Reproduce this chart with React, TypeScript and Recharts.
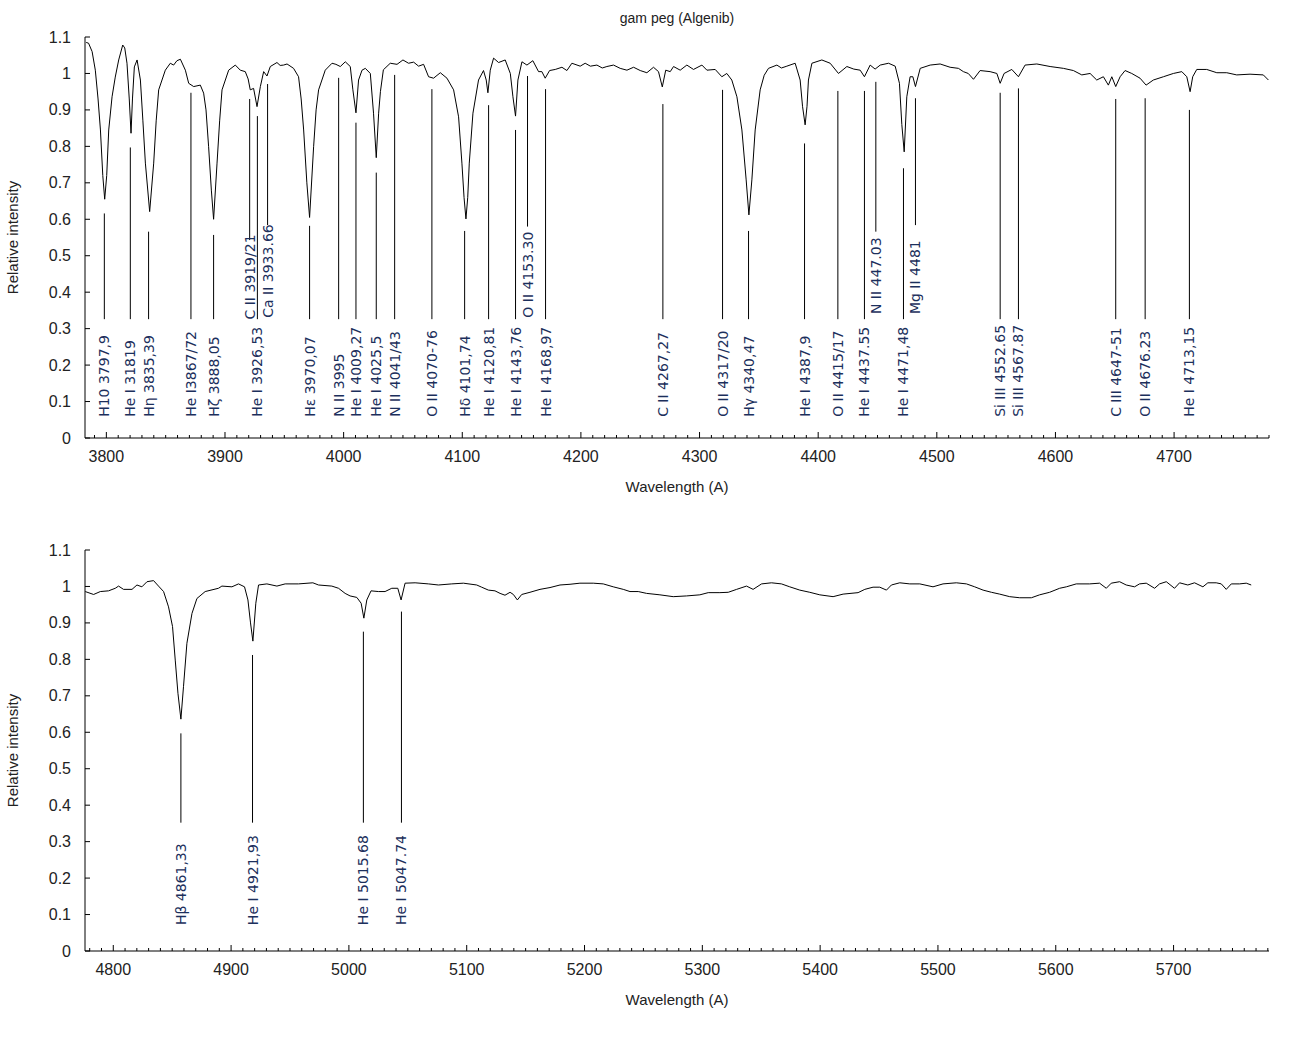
import { ComposedChart, Line, Scatter, XAxis, YAxis, ReferenceLine } from "recharts";

// top panel spectrum (3782 - 4780 A)
const topWave = [
  3783, 3785, 3788, 3790.7, 3793, 3795, 3797, 3798.6, 3800.3, 3802, 3804.8, 3807.5, 3810.4, 3813.8, 3815.5,
  3817.4, 3819.3, 3820.8, 3822, 3823.6, 3825.9, 3828.7, 3830.8, 3832.9, 3836.5, 3839.9, 3842, 3844.1, 3849.7,
  3853.9, 3856.7, 3859.5, 3862.4, 3866.6, 3869.4, 3873.6, 3879.2, 3882, 3884, 3886.2, 3888.5, 3890.4, 3893.3,
  3895.5, 3897.5, 3903.1, 3908.7, 3912.9, 3917.1, 3919.5, 3921.3, 3924.1, 3927, 3929.8, 3932.6, 3935.4, 3938.2,
  3943.8, 3946.5, 3949.4, 3952.3, 3957.8, 3962, 3964.2, 3966.3, 3969, 3971.3, 3974.7, 3976.8, 3978.9, 3984.5,
  3990.2, 3993.5, 3997.2, 4001.4, 4005.6, 4007.8, 4010.4, 4012.6, 4015.5, 4018.3, 4022.5, 4025.2, 4027.5, 4029.5,
  4031, 4033.5, 4039.3, 4045, 4050, 4054.7, 4059, 4063.2, 4067.4, 4071.6, 4075.8, 4081.5, 4087.1, 4092.7, 4096.9,
  4099.7, 4101.5, 4103.1, 4104.6, 4105.9, 4109, 4113.7, 4117.9, 4120.2, 4121.6, 4123.6, 4126.4, 4130.6, 4136.2,
  4140.5, 4142.7, 4144.9, 4146.9, 4150.3, 4154.5, 4159.5, 4164.3, 4167.1, 4169.9, 4173.6, 4178.4, 4184, 4188.2,
  4192.4, 4199.4, 4203.6, 4208, 4213.5, 4218, 4221.9, 4227.5, 4233.1, 4238.8, 4244.4, 4250, 4255.6, 4261.2,
  4265.4, 4268.6, 4271.5, 4275.3, 4278.1, 4283.7, 4289.3, 4294.9, 4302, 4306.2, 4313.2, 4318.8, 4323, 4327.2,
  4331.5, 4335.7, 4339.3, 4341.6, 4344.1, 4346.9, 4351.1, 4354.5, 4358.1, 4365.2, 4369, 4373.6, 4380.6, 4384.8,
  4386.8, 4389, 4390.6, 4391.8, 4394.7, 4403.1, 4410.1, 4417.1, 4424.2, 4430, 4435.4, 4439, 4443.8, 4448,
  4452.3, 4459.3, 4464.9, 4468.5, 4470.5, 4472.5, 4474.7, 4477.5, 4479.8, 4482, 4486, 4494.4, 4502.8, 4511.2,
  4518.2, 4522.4, 4526.5, 4530.9, 4536.5, 4544.9, 4550.6, 4553.4, 4556.7, 4563.2, 4568.8, 4574.4, 4584.3,
  4595.5, 4606.7, 4615.1, 4622.2, 4629.2, 4634.8, 4640.4, 4644.6, 4647.5, 4650.8, 4654.5, 4658.7, 4664.3,
  4671.3, 4676.4, 4682.5, 4691, 4699.4, 4706.5, 4710.7, 4713.5, 4715.7, 4719.1, 4727.5, 4736, 4744.4, 4752.8,
  4764, 4775.2, 4779.5,
];
const topFlux = [
  1.085, 1.083, 1.06, 1.009, 0.93, 0.845, 0.72, 0.655, 0.72, 0.845, 0.936, 0.99, 1.037, 1.078, 1.07,
  1.028, 0.93, 0.836, 0.93, 1.018, 1.037, 0.982, 0.87, 0.754, 0.621, 0.754, 0.87, 0.955, 1.009,
  1.028, 1.023, 1.035, 1.039, 1.009, 0.973, 0.964, 0.968, 0.946, 0.9, 0.799, 0.68, 0.6, 0.754,
  0.87, 0.955, 1.009, 1.023, 1.009, 1.005, 0.985, 0.955, 0.959, 0.909, 0.964, 1.005, 0.993, 1.019,
  1.03, 1.022, 1.023, 1.026, 1.014, 0.991, 0.93, 0.845, 0.7, 0.605, 0.799, 0.9, 0.955, 1.009,
  1.028, 1.025, 1.019, 1.032, 1.019, 0.955, 0.892, 0.982, 1.009, 1.014, 1.0, 0.891, 0.769, 0.891,
  0.95, 1.01, 1.028, 1.025, 1.037, 1.028, 1.031, 1.02, 1.025, 0.991, 0.987, 1.002, 0.987, 0.955, 0.881,
  0.754, 0.66, 0.601, 0.66, 0.754, 0.891, 0.982, 1.008, 0.982, 0.947, 1.009, 1.042, 1.03, 1.037,
  1.0, 0.936, 0.883, 0.982, 1.032, 1.023, 1.035, 1.005, 1.005, 0.987, 1.008, 1.011, 1.017, 1.008,
  1.028, 1.02, 1.028, 1.02, 1.023, 1.015, 1.019, 1.023, 1.014, 1.009, 1.017, 1.008, 1.002, 1.017,
  1.005, 0.963, 1.009, 1.005, 1.019, 1.009, 1.023, 1.011, 1.023, 1.009, 1.011, 0.991, 1.0, 0.982,
  0.936, 0.845, 0.708, 0.612, 0.708, 0.845, 0.955, 0.995, 1.014, 1.023, 1.015, 1.02, 1.028, 0.982,
  0.91, 0.859, 0.91, 0.982, 1.028, 1.037, 1.028, 1.0, 1.019, 1.012, 1.009, 0.991, 1.023, 1.012,
  1.023, 1.028, 1.02, 0.973, 0.86, 0.785, 0.936, 0.991, 0.991, 0.964, 1.014, 1.023, 1.026, 1.017,
  1.014, 1.005, 1.0, 0.984, 1.008, 1.005, 1.0, 0.973, 1.0, 1.011, 0.991, 1.023, 1.026,
  1.019, 1.014, 1.008, 0.996, 1.0, 0.982, 0.991, 0.968, 0.991, 0.964, 0.991, 1.008, 1.0,
  0.987, 0.968, 0.982, 0.991, 1.0, 1.005, 0.991, 0.95, 0.991, 1.011, 1.011, 1.002, 1.002, 0.996,
  0.998, 0.996, 0.982,
];

// bottom panel spectrum (4776 - 5781 A)
const botWave = [
  4776.2, 4783.3, 4789, 4796, 4801.7, 4804.5, 4808.7, 4815.9, 4820.1, 4824.3, 4828.6, 4834.2, 4838.4, 4842.7,
  4846.9, 4850.3, 4852.6, 4854.9, 4857.4, 4859.6, 4862.5, 4866.8, 4871, 4878, 4889.3, 4892.2, 4900.7, 4906.3,
  4911.4, 4914.3, 4916.5, 4918.5, 4921, 4923.3, 4930.4, 4938.9, 4945.9, 4957.2, 4969.4, 4974.2, 4985.5, 4991.2,
  4996.8, 5001, 5006.7, 5010.4, 5012.7, 5015.2, 5018.8, 5025, 5030.7, 5036.4, 5041.5, 5044.3, 5047.7, 5056.2,
  5067.5, 5076, 5087.3, 5097.2, 5108.5, 5112.7, 5118.4, 5124, 5128.3, 5132.5, 5136.8, 5139.6, 5143, 5146.7,
  5153.7, 5162.2, 5170.7, 5179.2, 5187.7, 5196.1, 5207.4, 5215.9, 5224.4, 5232.9, 5238.6, 5245.6, 5252.7, 5264,
  5275.3, 5286.6, 5297.9, 5305, 5314.9, 5322, 5329.1, 5337.5, 5343.1, 5350.3, 5358.7, 5367.2, 5374.2, 5382.7,
  5391.2, 5399.7, 5411, 5419.5, 5432.2, 5437.9, 5444.9, 5450.6, 5456.3, 5460.5, 5467.6, 5476.1, 5484.6, 5495.8,
  5504.3, 5515.6, 5524.2, 5531.2, 5538.3, 5545.4, 5552.4, 5560.9, 5569.4, 5579.3, 5586.3, 5594.8, 5603.3, 5609,
  5617.4, 5628.7, 5637.2, 5642.9, 5647.1, 5654.2, 5659.8, 5666.9, 5671.1, 5676.8, 5683.9, 5688.1, 5693.8, 5700.8,
  5705.1, 5712.1, 5717.8, 5724.9, 5729.1, 5736.2, 5740.5, 5744.7, 5749, 5756, 5761.7, 5765.9,
];
const botFlux = [
  0.986, 0.978, 0.986, 0.988, 0.995, 1.001, 0.992, 0.992, 1.004, 0.999, 1.013, 1.016, 1.001, 0.986,
  0.944, 0.89, 0.798, 0.707, 0.636, 0.725, 0.844, 0.926, 0.967, 0.986, 0.995, 1.001, 0.999, 1.007,
  0.999, 0.963, 0.9, 0.85, 0.954, 1.004, 1.007, 1.001, 1.007, 1.007, 1.01, 1.004, 1.001, 0.995,
  0.981, 0.974, 0.97, 0.954, 0.913, 0.963, 0.988, 0.986, 0.986, 0.995, 0.995, 0.963, 1.009, 1.01,
  1.007, 1.004, 1.007, 1.009, 1.004, 0.998, 0.99, 0.988, 0.981, 0.976, 0.984, 0.978, 0.963, 0.978,
  0.984, 0.992, 0.997, 1.004, 1.006, 1.009, 1.009, 1.007, 0.999, 0.992, 0.986, 0.986, 0.981, 0.977,
  0.972, 0.974, 0.977, 0.983, 0.983, 0.984, 0.992, 1.001, 0.992, 1.007, 1.01, 1.007, 0.999, 0.99,
  0.984, 0.977, 0.972, 0.979, 0.983, 0.992, 0.998, 0.998, 0.99, 1.004, 1.01, 1.007, 1.007, 0.999,
  1.007, 1.01, 1.007, 0.999, 0.99, 0.984, 0.979, 0.972, 0.969, 0.969, 0.977, 0.984, 0.995, 0.999,
  1.007, 1.007, 1.009, 0.995, 1.009, 1.013, 1.004, 0.999, 1.007, 1.009, 0.995, 1.007, 1.013, 0.995,
  1.01, 1.004, 1.01, 0.999, 1.01, 1.01, 1.007, 0.992, 1.007, 1.007, 1.009, 1.004,
];

// line identifications, top panel
const topLabels = [
  "H10 3797,9", "He I 31819", "Hη 3835,39", "He I3867/72", "Hζ 3888,05", "C II 3919/21", "He I 3926,53",
  "Ca II 3933.66", "Hε 3970,07", "N II 3995", "He I 4009,27", "He I 4025,5", "N II 4041/43", "O II 4070-76",
  "Hδ 4101,74", "He I 4120,81", "He I 4143,76", "O II 4153.30", "He I 4168,97", "C II 4267,27", "O II 4317/20",
  "Hγ 4340,47", "He I 4387,9", "O II 4415/17", "He I 4437.55", "N II 447.03", "He I 4471,48", "Mg II 4481",
  "Si III 4552.65", "Si III 4567.87", "C III 4647-51", "O II 4676.23", "He I 4713,15",
];
const topLinePos = [
  3798.3, 3820.2, 3835.6, 3871.3, 3890.4, 3920.8, 3927.3, 3935.9, 3971.3, 3995.8, 4010.4, 4027.5, 4043, 4074.4,
  4102, 4122.2, 4144.9, 4155, 4170.2, 4269.1, 4319.4, 4341.3, 4388.5, 4416.6, 4439, 4448.6, 4471.9, 4482,
  4553.4, 4568.8, 4650.8, 4675.6, 4712.9,
];
const topLineFrom = [
  0.616, 0.797, 0.566, 0.947, 0.557, 0.93, 0.883, 0.971, 0.582, 0.988, 0.865, 0.728, 0.996, 0.957,
  0.568, 0.913, 0.845, 0.993, 0.957, 0.916, 0.955, 0.568, 0.808, 0.952, 0.952, 0.977, 0.74, 0.932,
  0.947, 0.959, 0.93, 0.932, 0.9,
];
const topLineTo = [
  0.326, 0.326, 0.326, 0.326, 0.326, 0.543, 0.326, 0.584, 0.326, 0.326, 0.326, 0.326, 0.326, 0.326,
  0.326, 0.326, 0.326, 0.58, 0.326, 0.326, 0.326, 0.326, 0.326, 0.326, 0.326, 0.566, 0.326, 0.584,
  0.326, 0.326, 0.326, 0.326, 0.326,
];
const topLabelBase = [
  0.058, 0.058, 0.058, 0.058, 0.058, 0.325, 0.058, 0.33, 0.058, 0.058, 0.058, 0.058, 0.058, 0.058,
  0.058, 0.058, 0.058, 0.33, 0.058, 0.058, 0.058, 0.058, 0.058, 0.058, 0.058, 0.34, 0.058, 0.34,
  0.058, 0.058, 0.058, 0.058, 0.058,
];

// line identifications, bottom panel
const botLabels = ["Hβ 4861,33", "He I 4921,93", "He I 5015.68", "He I 5047.74"];
const botLinePos = [4857.4, 4918.2, 5012.3, 5044.6];
const botLineFrom = [0.597, 0.812, 0.876, 0.931];
const botLineTo = [0.352, 0.352, 0.352, 0.352];
const botLabelBase = [0.071, 0.071, 0.071, 0.071];

const yTicks = [0, 0.1, 0.2, 0.3, 0.4, 0.5, 0.6, 0.7, 0.8, 0.9, 1, 1.1];
const topMajor = [3800, 3900, 4000, 4100, 4200, 4300, 4400, 4500, 4600, 4700];
const botMajor = [4800, 4900, 5000, 5100, 5200, 5300, 5400, 5500, 5600, 5700];

const axisFont = "'Liberation Sans', Arial, sans-serif";
const axisColor = "#222";
const labelColor = "#1c2f5c";

const BottomTick = (props: any) => {
  const { x, y, payload } = props;
  const major = payload.value % 100 === 0;
  return (
    <g>
      <line x1={x} x2={x} y1={y} y2={y - (major ? 6 : 3)} stroke="#000" />
      {major && (
        <text x={x} y={y + 18} textAnchor="middle" dominantBaseline="central" fontFamily={axisFont} fontSize={16} fill={axisColor}>
          {payload.value}
        </text>
      )}
    </g>
  );
};

const TopTick = (props: any) => {
  const { x, y, payload } = props;
  const major = payload.value % 100 === 0;
  return <line x1={x} x2={x} y1={y} y2={y + (major ? 6 : 3)} stroke="#000" />;
};

const LeftTick = (props: any) => {
  const { x, y, payload } = props;
  return (
    <g>
      <line x1={x} x2={x + 5} y1={y} y2={y} stroke="#000" />
      <text x={x - 14} y={y} textAnchor="end" dominantBaseline="central" fontFamily={axisFont} fontSize={16} fill={axisColor}>
        {String(payload.value)}
      </text>
    </g>
  );
};

const RightTick = (props: any) => {
  const { x, y } = props;
  return <line x1={x} x2={x - 5} y1={y} y2={y} stroke="#000" />;
};

const LabelShape = (props: any) => {
  const { cx, cy, payload } = props;
  return (
    <text
      x={cx}
      y={cy}
      transform={`rotate(-90 ${cx} ${cy})`}
      dominantBaseline="central"
      fontFamily="'DejaVu Sans', sans-serif"
      fontSize={14}
      fill={labelColor}
    >
      {payload.label}
    </text>
  );
};

type PanelProps = {
  wave: number[];
  flux: number[];
  labels: string[];
  pos: number[];
  from: number[];
  to: number[];
  base: number[];
  domain: [number, number];
  majors: number[];
};

function Panel({ wave, flux, labels, pos, from, to, base, domain, majors }: PanelProps) {
  const spectrum = wave.map((x, i) => ({ x, y: flux[i] }));
  const marks = labels.map((label, i) => ({ x: pos[i], y: base[i], label }));
  const ticks: number[] = [];
  for (let v = majors[0] - 100; v <= domain[1]; v += 10) {
    if (v >= domain[0]) ticks.push(v);
  }

  return (
    <ComposedChart width={1300} height={498} margin={{ top: 37, right: 31, bottom: 0, left: 0 }}>
      <XAxis
        xAxisId="b"
        dataKey="x"
        type="number"
        domain={domain}
        allowDataOverflow
        ticks={ticks}
        interval={0}
        tickSize={0}
        tickMargin={0}
        tickLine={false}
        tick={(p: any) => <BottomTick {...p} />}
        stroke="#000"
        height={60}
        label={{ value: "Wavelength (A)", position: "insideBottom", offset: 6, fill: axisColor, fontSize: 15, fontFamily: axisFont }}
      />
      <XAxis
        xAxisId="t"
        orientation="top"
        dataKey="x"
        type="number"
        domain={domain}
        allowDataOverflow
        ticks={ticks}
        interval={0}
        tickSize={0}
        tickMargin={0}
        tickLine={false}
        tick={(p: any) => <TopTick {...p} />}
        stroke="#000"
        height={0}
      />
      <YAxis
        yAxisId="l"
        type="number"
        domain={[0, 1.1]}
        allowDataOverflow
        ticks={yTicks}
        interval={0}
        tickSize={0}
        tickMargin={0}
        tickLine={false}
        tick={(p: any) => <LeftTick {...p} />}
        stroke="#000"
        width={85}
        label={{
          value: "Relative intensity",
          angle: -90,
          position: "insideLeft",
          offset: 13,
          fill: axisColor,
          fontSize: 15,
          fontFamily: axisFont,
          style: { textAnchor: "middle" },
        }}
      />
      <YAxis
        yAxisId="r"
        orientation="right"
        type="number"
        domain={[0, 1.1]}
        allowDataOverflow
        ticks={yTicks}
        interval={0}
        tickSize={0}
        tickMargin={0}
        tickLine={false}
        tick={(p: any) => <RightTick {...p} />}
        stroke="#000"
        width={0}
      />
      {pos.map((x, i) => (
        <ReferenceLine
          key={i}
          xAxisId="b"
          yAxisId="l"
          segment={[{ x, y: from[i] }, { x, y: to[i] }]}
          stroke="#000"
          strokeWidth={1}
        />
      ))}
      <Line
        xAxisId="b"
        yAxisId="l"
        data={spectrum}
        dataKey="y"
        type="linear"
        stroke="#000"
        strokeWidth={1}
        dot={false}
        isAnimationActive={false}
      />
      <Scatter xAxisId="b" yAxisId="l" data={marks} dataKey="y" shape={LabelShape} isAnimationActive={false} />
    </ComposedChart>
  );
}

export default function App() {
  return (
    <div style={{ position: "absolute", left: 0, top: 0, width: 1300, height: 1041, background: "#fff" }}>
      <div
        style={{
          position: "absolute",
          left: 527,
          top: 10,
          width: 300,
          textAlign: "center",
          fontFamily: axisFont,
          fontSize: 14,
          lineHeight: "16px",
          color: axisColor,
        }}
      >
        gam peg (Algenib)
      </div>
      <div style={{ position: "absolute", left: 0, top: 0 }}>
        <Panel
          wave={topWave}
          flux={topFlux}
          labels={topLabels}
          pos={topLinePos}
          from={topLineFrom}
          to={topLineTo}
          base={topLabelBase}
          domain={[3782, 4780]}
          majors={topMajor}
        />
      </div>
      <div style={{ position: "absolute", left: 0, top: 513 }}>
        <Panel
          wave={botWave}
          flux={botFlux}
          labels={botLabels}
          pos={botLinePos}
          from={botLineFrom}
          to={botLineTo}
          base={botLabelBase}
          domain={[4776, 5781]}
          majors={botMajor}
        />
      </div>
    </div>
  );
}
